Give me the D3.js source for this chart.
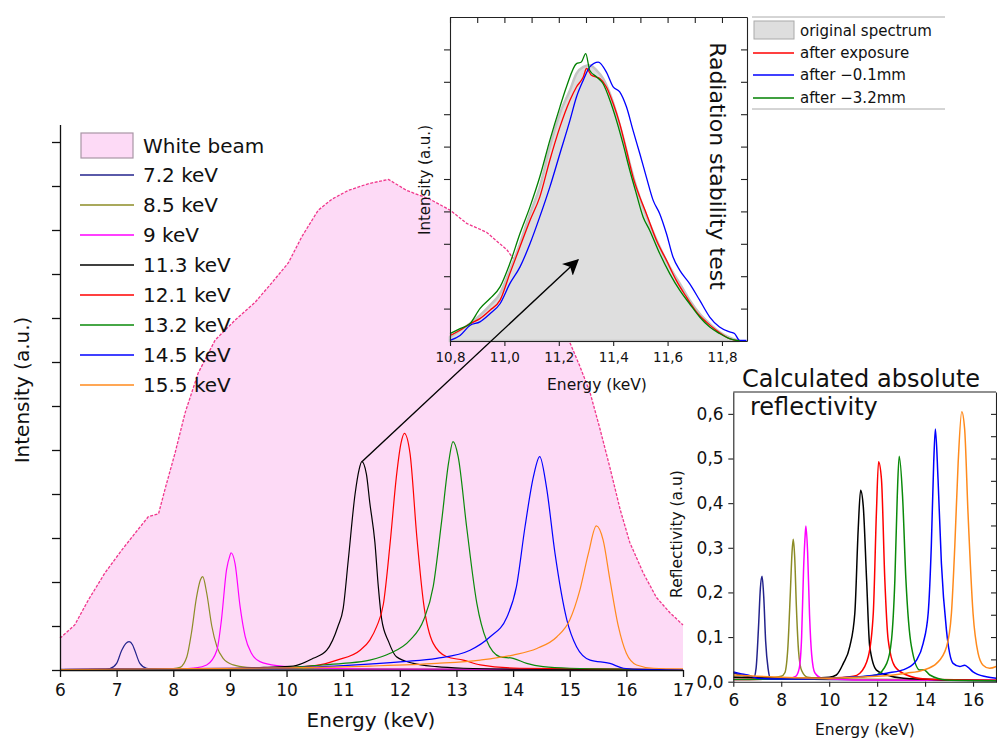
<!DOCTYPE html>
<html><head><meta charset="utf-8">
<script src="https://cdn.jsdelivr.net/npm/d3@7"></script>
<style>
body{margin:0;background:#fff}
svg text{font-family:"DejaVu Sans",sans-serif;fill:#111}
</style></head>
<body><svg id="c" width="997" height="740"></svg>
<script>
// ---------------- DATA ----------------
// Main chart: energy (keV) vs intensity (a.u.)
const legendLabels = ["7.2 keV","8.5 keV","9 keV","11.3 keV","12.1 keV","13.2 keV","14.5 keV","15.5 keV"];
const seriesColors = ["#23238c","#8c8c26","#ff00ff","#000000","#ff0000","#0a8a0a","#0000ff","#ff8a1c"];
const mainTicksX = [6,7,8,9,10,11,12,13,14,15,16,17];

const whiteBeam = [[6.0,1.44],[6.26,2.05],[6.5,3.18],[6.79,4.4],[7.09,5.45],[7.32,6.2],[7.56,6.97],[7.74,7.1],[7.85,8.18],[8.03,9.85],[8.21,11.7],[8.44,13.5],[8.74,15.0],[9.09,15.9],[9.44,16.7],[9.74,17.6],[10.03,18.5],[10.27,19.7],[10.56,20.9],[10.8,21.4],[11.09,21.8],[11.44,22.1],[11.8,22.3],[12.12,21.8],[12.53,21.4],[12.89,20.9],[13.18,20.3],[13.53,19.9],[13.89,19.1],[14.12,18.3],[14.5,16.8],[15.0,14.9],[15.18,13.8],[15.36,12.6],[15.53,11.0],[15.71,9.2],[15.89,7.3],[16.06,5.8],[16.3,4.4],[16.53,3.3],[16.77,2.6],[17.0,2.05]];

const main72 = [[6.0,0.03],[6.8,0.03],[6.88,0.06],[7.0,0.3],[7.09,0.9],[7.16,1.2],[7.22,1.29],[7.28,1.15],[7.32,0.9],[7.41,0.3],[7.53,0.08],[7.7,0.04],[9,0.04],[12,0.03],[17,0.02]];
const main85 = [[6.0,0.02],[7.5,0.03],[8.0,0.06],[8.12,0.12],[8.24,0.6],[8.32,1.67],[8.41,3.3],[8.48,4.1],[8.52,4.24],[8.59,3.5],[8.68,2.0],[8.77,1.06],[8.88,0.53],[9.06,0.23],[9.3,0.12],[10,0.06],[12,0.04],[17,0.02]];
const main90 = [[6.0,0.02],[8.0,0.04],[8.4,0.1],[8.59,0.23],[8.77,0.9],[8.85,2.27],[8.94,4.55],[9.0,5.2],[9.02,5.33],[9.09,4.85],[9.18,2.88],[9.27,1.52],[9.38,0.76],[9.53,0.38],[9.83,0.2],[10.5,0.1],[12,0.04],[17,0.02]];
const main113 = [[6.0,0.02],[9.0,0.06],[9.6,0.12],[10.12,0.18],[10.47,0.53],[10.71,0.9],[10.91,2.0],[11.0,2.8],[11.09,5.0],[11.21,8.0],[11.28,9.1],[11.33,9.47],[11.41,8.9],[11.47,7.6],[11.56,5.8],[11.62,3.8],[11.68,2.3],[11.8,1.3],[11.94,0.6],[12.24,0.3],[12.65,0.15],[13.12,0.08],[14,0.04],[17,0.02]];
const main121 = [[6.0,0.02],[9.5,0.06],[10.5,0.2],[10.89,0.45],[11.3,0.9],[11.47,1.36],[11.59,1.97],[11.71,3.0],[11.83,5.8],[11.94,8.8],[12.02,10.3],[12.08,10.76],[12.18,9.85],[12.3,6.06],[12.42,3.03],[12.59,1.21],[12.83,0.6],[13.12,0.45],[13.42,0.23],[14.12,0.08],[17,0.02]];
const main132 = [[6.0,0.02],[9.5,0.06],[10.5,0.2],[11.0,0.3],[11.47,0.45],[11.83,0.76],[12.18,1.36],[12.42,2.27],[12.59,3.8],[12.74,6.8],[12.86,9.4],[12.94,10.38],[13.03,9.7],[13.18,6.5],[13.36,3.03],[13.53,1.36],[13.77,0.6],[14.0,0.53],[14.24,0.3],[14.53,0.15],[15.0,0.08],[17,0.02]];
const main145 = [[6.0,0.02],[10,0.1],[11.0,0.2],[12.06,0.38],[12.65,0.53],[13.24,0.9],[13.59,1.5],[13.89,2.4],[14.06,3.8],[14.21,6.5],[14.36,8.8],[14.47,9.7],[14.59,8.3],[14.74,5.3],[14.95,2.27],[15.12,1.06],[15.36,0.45],[15.71,0.3],[15.95,0.08],[16.3,0.02],[17,0.02]];
const main155 = [[6.0,0.02],[10,0.1],[11.47,0.18],[12.65,0.3],[13.42,0.45],[14.0,0.68],[14.42,0.98],[14.77,1.5],[15.0,2.27],[15.18,3.64],[15.33,5.3],[15.47,6.55],[15.59,5.9],[15.71,4.1],[15.86,1.97],[16.0,0.76],[16.18,0.23],[16.48,0.08],[17,0.05]];

// Inset 1: radiation stability test, energy (keV) vs intensity (a.u.)
const stabTicksX = [10.8,11.0,11.2,11.4,11.6,11.8];
const stabLabels = ["original spectrum","after exposure","after \u22120.1mm","after \u22123.2mm"];
const stabOriginal = [[10.8,1.2],[10.837,3.3],[10.873,5.3],[10.91,7.9],[10.947,11.0],[10.984,14.6],[11.02,21.8],[11.057,30.0],[11.094,39.3],[11.13,47.5],[11.167,59.9],[11.204,70.2],[11.241,77.4],[11.265,82.5],[11.29,84.6],[11.314,85.1],[11.339,83.5],[11.363,81.0],[11.388,76.3],[11.412,70.2],[11.436,63.0],[11.461,54.7],[11.485,47.5],[11.51,41.4],[11.534,36.2],[11.571,29.0],[11.608,22.8],[11.645,17.7],[11.681,12.6],[11.718,8.4],[11.755,5.3],[11.791,2.8],[11.828,1.0],[11.865,0]];
const stabExposure = [[10.8,1.7],[10.837,3.3],[10.873,5.3],[10.91,6.9],[10.947,9.5],[10.984,12.6],[11.02,20.8],[11.057,29.0],[11.094,37.2],[11.13,44.4],[11.167,55.8],[11.204,66.0],[11.241,74.3],[11.265,78.4],[11.29,81.5],[11.302,84.1],[11.32,82.0],[11.351,81.0],[11.375,78.4],[11.4,73.3],[11.424,67.1],[11.449,58.8],[11.473,50.6],[11.498,44.4],[11.522,39.3],[11.559,31.1],[11.596,24.9],[11.632,18.7],[11.669,13.6],[11.706,9.0],[11.742,5.9],[11.779,3.3],[11.828,0.7],[11.865,0]];
const stabMinus01 = [[10.8,0.2],[10.837,1.7],[10.873,4.8],[10.91,5.9],[10.947,8.4],[10.984,11.5],[11.02,17.7],[11.057,22.8],[11.094,30.0],[11.13,38.3],[11.167,47.5],[11.204,57.8],[11.241,68.1],[11.265,75.3],[11.29,80.5],[11.314,84.6],[11.345,86.1],[11.375,83.0],[11.4,78.4],[11.424,76.9],[11.449,72.2],[11.473,65.0],[11.498,57.8],[11.522,50.6],[11.547,43.4],[11.571,39.3],[11.596,33.1],[11.62,25.9],[11.645,21.8],[11.681,17.7],[11.718,12.6],[11.755,7.4],[11.791,4.3],[11.828,2.8],[11.846,2.3],[11.865,0.2],[11.89,0.2]];
const stabMinus32 = [[10.8,2.3],[10.837,3.8],[10.873,5.3],[10.91,10.0],[10.947,13.1],[10.984,16.7],[11.02,23.9],[11.057,33.1],[11.094,41.4],[11.13,50.6],[11.167,61.9],[11.204,72.2],[11.228,78.4],[11.265,85.6],[11.283,86.1],[11.299,88.7],[11.314,83.5],[11.339,81.5],[11.363,79.4],[11.388,74.3],[11.412,68.1],[11.436,60.9],[11.461,52.7],[11.485,45.5],[11.51,38.3],[11.534,34.2],[11.571,27.0],[11.608,20.8],[11.645,15.6],[11.681,11.5],[11.718,7.4],[11.755,4.3],[11.791,2.3],[11.828,0.7],[11.865,0]];

// Inset 2: calculated absolute reflectivity, energy (keV) vs reflectivity
const reflTicksY = [0,0.1,0.2,0.3,0.4,0.5,0.6];
const reflTicksX = [6,8,10,12,14,16];
const refl72 = [[6,0.02],[6.3,0.015],[6.6,0.012],[6.85,0.008],[6.95,0.03],[7.05,0.12],[7.13,0.21],[7.2,0.236],[7.27,0.19],[7.35,0.09],[7.45,0.03],[7.55,0.008],[8,0.006],[10,0.005],[17,0.002]];
const refl85 = [[6,0.01],[7.5,0.008],[8.0,0.012],[8.15,0.02],[8.28,0.08],[8.38,0.2],[8.45,0.29],[8.5,0.319],[8.56,0.28],[8.63,0.17],[8.72,0.07],[8.85,0.025],[9.1,0.01],[10,0.006],[17,0.003]];
const refl90 = [[6,0.005],[8.2,0.006],[8.6,0.012],[8.75,0.03],[8.85,0.1],[8.93,0.25],[9.0,0.33],[9.03,0.349],[9.1,0.29],[9.18,0.15],[9.27,0.06],[9.4,0.02],[9.7,0.008],[11,0.004],[17,0.003]];
const refl113 = [[6,0.01],[9,0.008],[10.0,0.01],[10.3,0.015],[10.58,0.04],[10.86,0.079],[11.07,0.154],[11.21,0.341],[11.31,0.429],[11.42,0.394],[11.56,0.229],[11.69,0.079],[11.97,0.026],[12.4,0.015],[13.1,0.0075],[15,0.004],[17,0.002]];
const refl121 = [[6,0.005],[10,0.008],[11.0,0.012],[11.28,0.019],[11.63,0.056],[11.84,0.154],[11.97,0.379],[12.06,0.493],[12.18,0.454],[12.32,0.229],[12.46,0.094],[12.74,0.034],[13.23,0.015],[14,0.006],[17,0.003]];
const refl132 = [[6,0.005],[10,0.008],[11.0,0.01],[11.6,0.012],[11.97,0.015],[12.4,0.041],[12.6,0.094],[12.74,0.229],[12.84,0.416],[12.92,0.505],[13.06,0.416],[13.2,0.229],[13.43,0.079],[13.78,0.026],[13.95,0.027],[14.2,0.015],[14.9,0.004],[17,0.002]];
const refl145 = [[6,0.022],[6.3,0.018],[6.6,0.015],[7,0.008],[8,0.006],[10,0.008],[11.5,0.012],[12.4,0.019],[13.23,0.03],[13.65,0.049],[13.92,0.086],[14.13,0.154],[14.26,0.304],[14.36,0.491],[14.43,0.566],[14.54,0.454],[14.68,0.266],[14.89,0.116],[15.17,0.041],[15.45,0.034],[15.65,0.037],[15.8,0.032],[16.0,0.022],[16.55,0.011],[16.97,0.0075]];
const refl155 = [[6,0.015],[7,0.012],[8,0.01],[10,0.008],[12,0.012],[13.23,0.019],[13.92,0.026],[14.48,0.041],[14.9,0.079],[15.1,0.154],[15.24,0.304],[15.38,0.491],[15.53,0.605],[15.65,0.566],[15.79,0.379],[16.0,0.154],[16.21,0.064],[16.42,0.037],[16.69,0.03],[16.97,0.034]];

// Arrow: from the 11.3 keV peak (main chart) to a point inside the inset
const arrowFrom = [11.33, 9.47];
const arrowTo = [11.27, 25];

// ---------------- DRAW ----------------
const svg = d3.select("#c");
const fmtComma = d => d3.format(".1f")(d).replace(".", ",");
const mainData = [main72, main85, main90, main113, main121, main132, main145, main155];
const reflData = [refl72, refl85, refl90, refl113, refl121, refl132, refl145, refl155];

// Main scales
const x = d3.scaleLinear().domain([6,17]).range([60,683]);
const y = d3.scaleLinear().domain([0,24.8]).range([670,124.4]);

// Inset 1 scales
const xi = d3.scaleLinear().domain([10.8,11.892]).range([450,747]);
const yi = d3.scaleLinear().domain([0,100]).range([341,17]);

// Inset 2 scales
const xr = d3.scaleLinear().domain([6,17]).range([733.3,997]);
const yr = d3.scaleLinear().domain([0,0.649]).range([681.7,392]);

// White beam fill
const beamArea = d3.area().x(d=>x(d[0])).y0(y(0)).y1(d=>y(d[1]));
svg.append("path").datum(whiteBeam).attr("d", beamArea).attr("fill","#fddaf6");

// Inset 1 white background
svg.append("rect").attr("x",xi.range()[0]).attr("y",yi.range()[1])
  .attr("width",xi.range()[1]-xi.range()[0]).attr("height",yi.range()[0]-yi.range()[1]).attr("fill","#fff");

// White beam edge
const beamLine = d3.line().x(d=>x(d[0])).y(d=>y(d[1]));
svg.append("path").datum(whiteBeam).attr("d", beamLine).attr("fill","none")
  .attr("stroke","#f0378c").attr("stroke-width",1.3).attr("stroke-dasharray","3,1.5");

// Main curves
const mline = d3.line().x(d=>x(d[0])).y(d=>y(d[1])).curve(d3.curveMonotoneX);
mainData.forEach((s,i)=>{
  svg.append("path").datum(s).attr("d", mline).attr("fill","none")
    .attr("stroke", seriesColors[i]).attr("stroke-width",1.2);
});

// Main axes
const gx = svg.append("g").attr("transform",`translate(0,${y(0)})`);
gx.call(d3.axisBottom(x).tickValues(d3.range(6.5,17,1)).tickSize(4).tickSizeOuter(0).tickFormat(""));
gx.call(d3.axisBottom(x).tickValues(mainTicksX).tickSize(7).tickSizeOuter(0).tickFormat(d3.format("d")));
gx.selectAll("text").attr("font-size",17).attr("dy","0.95em");
gx.selectAll("path,line").attr("stroke","#111").attr("stroke-width",1.3);

const gy = svg.append("g").attr("transform",`translate(${x(6)},0)`);
gy.call(d3.axisLeft(y).tickValues(d3.range(1,25,2)).tickSize(4).tickSizeOuter(0).tickFormat(""));
gy.call(d3.axisLeft(y).tickValues(d3.range(0,25,2)).tickSize(8).tickSizeOuter(0).tickFormat(""));
gy.selectAll("path,line").attr("stroke","#111").attr("stroke-width",1.3);

svg.append("text").attr("x",371).attr("y",727).attr("text-anchor","middle").attr("font-size",20).text("Energy (keV)");
svg.append("text").attr("transform","translate(22,390) rotate(-90)").attr("text-anchor","middle")
  .attr("dominant-baseline","central").attr("font-size",20).text("Intensity (a.u.)");

// Main legend
const lg = svg.append("g");
lg.append("rect").attr("x",81).attr("y",133).attr("width",52).attr("height",25)
  .attr("fill","#fddaf6").attr("stroke","#a996a6").attr("stroke-width",1.2);
lg.append("text").attr("x",143).attr("y",146).attr("dominant-baseline","central").attr("font-size",20).text("White beam");
legendLabels.forEach((t,i)=>{
  const yy = 175 + i*30;
  lg.append("line").attr("x1",80).attr("x2",134).attr("y1",yy).attr("y2",yy)
    .attr("stroke",seriesColors[i]).attr("stroke-width",1.6);
  lg.append("text").attr("x",143).attr("y",yy).attr("dominant-baseline","central").attr("font-size",20).text(t);
});

// ---------- Inset 1 ----------
const ig = svg.append("g");
const iArea = d3.area().x(d=>xi(d[0])).y0(yi(0)).y1(d=>yi(d[1])).curve(d3.curveMonotoneX);
const iLine = d3.line().x(d=>xi(d[0])).y(d=>yi(d[1])).curve(d3.curveMonotoneX);
ig.append("path").datum(stabOriginal).attr("d",iArea).attr("fill","#dedede").attr("stroke","#c4c4c4").attr("stroke-width",2.5);
const stabLines = [stabExposure, stabMinus01, stabMinus32];
const stabColors = ["#ff0000","#0000ff","#008000"];
stabLines.forEach((s,i)=>{
  ig.append("path").datum(s).attr("d",iLine).attr("fill","none").attr("stroke",stabColors[i]).attr("stroke-width",1.3);
});
// axes
const ib = ig.append("g").attr("transform",`translate(0,${yi(0)})`);
ib.call(d3.axisBottom(xi).tickValues(d3.range(10.9,11.9,0.2)).tickSize(4).tickSizeOuter(0).tickFormat(""));
ib.call(d3.axisBottom(xi).tickValues(stabTicksX).tickSize(5).tickSizeOuter(0).tickFormat(fmtComma));
ib.selectAll("text").attr("font-size",13.5).attr("dy","0.95em");
const it = ig.append("g").attr("transform",`translate(0,${yi(100)})`);
it.call(d3.axisTop(xi).tickValues(d3.range(10.8,11.89,0.1)).tickSize(-6).tickSizeOuter(0).tickFormat(""));
const il = ig.append("g").attr("transform",`translate(${xi.range()[0]},0)`);
il.call(d3.axisLeft(yi).tickValues(d3.range(10,100,10)).tickSize(6).tickSizeOuter(0).tickFormat(""));
const ir = ig.append("g").attr("transform",`translate(${xi.range()[1]},0)`);
ir.call(d3.axisRight(yi).tickValues(d3.range(10,100,10)).tickSize(-6).tickSizeOuter(0).tickFormat(""));
ig.selectAll("path.domain,.tick line").attr("stroke","#222").attr("stroke-width",1.1);

ig.append("text").attr("x",597).attr("y",390).attr("text-anchor","middle").attr("font-size",15.5).text("Energy (keV)");
ig.append("text").attr("transform","translate(425,180) rotate(-90)").attr("text-anchor","middle")
  .attr("dominant-baseline","central").attr("font-size",15).text("Intensity (a.u.)");
ig.append("text").attr("transform","translate(717,166) rotate(90)").attr("text-anchor","middle")
  .attr("dominant-baseline","central").attr("font-size",22).text("Radiation stability test");

// Inset 1 legend
const il2 = svg.append("g");
il2.append("line").attr("x1",752).attr("x2",945).attr("y1",17).attr("y2",17).attr("stroke","#aaa").attr("stroke-width",1);
il2.append("line").attr("x1",752).attr("x2",945).attr("y1",109).attr("y2",109).attr("stroke","#aaa").attr("stroke-width",1);
il2.append("rect").attr("x",754).attr("y",21).attr("width",40).attr("height",18).attr("fill","#dedede").attr("stroke","#aaa");
const legRows = [31,53,75,98];
stabLabels.forEach((t,i)=>{
  if(i>0){
    il2.append("line").attr("x1",753).attr("x2",794).attr("y1",legRows[i]).attr("y2",legRows[i])
      .attr("stroke",stabColors[i-1]).attr("stroke-width",1.4);
  }
  il2.append("text").attr("x",800).attr("y",legRows[i]).attr("dominant-baseline","central").attr("font-size",15).text(t);
});

// Arrow
svg.append("defs").append("marker").attr("id","ah").attr("viewBox","0 0 10 10").attr("refX",9).attr("refY",5)
  .attr("markerWidth",16).attr("markerHeight",16).attr("markerUnits","userSpaceOnUse").attr("orient","auto")
  .append("path").attr("d","M0,0 L10,5 L0,10 L2.5,5 Z").attr("fill","#000");
svg.append("line").attr("x1",x(arrowFrom[0])).attr("y1",y(arrowFrom[1]))
  .attr("x2",xi(arrowTo[0])).attr("y2",yi(arrowTo[1]))
  .attr("stroke","#000").attr("stroke-width",1.4).attr("marker-end","url(#ah)");

// ---------- Inset 2 ----------
const rg = svg.append("g");
rg.append("defs").append("clipPath").attr("id","rc").append("rect")
  .attr("x",xr.range()[0]).attr("y",yr.range()[1]).attr("width",xr.range()[1]-xr.range()[0]).attr("height",yr.range()[0]-yr.range()[1]);
const rLine = d3.line().x(d=>xr(d[0])).y(d=>yr(d[1])).curve(d3.curveMonotoneX);
const rcurves = rg.append("g").attr("clip-path","url(#rc)");
reflData.forEach((s,i)=>{
  rcurves.append("path").datum(s).attr("d",rLine).attr("fill","none").attr("stroke",seriesColors[i]).attr("stroke-width",1.5);
});
const rb = rg.append("g").attr("transform",`translate(0,${yr(0)})`);
rb.call(d3.axisBottom(xr).tickValues(d3.range(7,17,2)).tickSize(5).tickSizeOuter(0).tickFormat(""));
rb.call(d3.axisBottom(xr).tickValues(reflTicksX).tickSize(5).tickSizeOuter(0).tickFormat(d3.format("d")));
rb.selectAll("text").attr("font-size",17).attr("dy","0.95em");
const rl = rg.append("g").attr("transform",`translate(${xr.range()[0]},0)`);
rl.call(d3.axisLeft(yr).tickValues(d3.range(0.05,0.65,0.1)).tickSize(3).tickSizeOuter(0).tickFormat(""));
rl.call(d3.axisLeft(yr).tickValues(reflTicksY).tickSize(5).tickSizeOuter(0).tickFormat(fmtComma));
rl.selectAll("text").attr("font-size",17).attr("dx","-0.1em");
const rr = rg.append("g").attr("transform",`translate(996,0)`);
rr.call(d3.axisRight(yr).tickValues(d3.range(0.05,0.65,0.05)).tickSize(-5).tickSizeOuter(0).tickFormat(""));
rg.append("line").attr("x1",xr.range()[0]).attr("x2",996).attr("y1",yr.range()[1]).attr("y2",yr.range()[1]);
rg.selectAll("path.domain,.tick line, line").attr("stroke","#222").attr("stroke-width",1.1);

rg.append("text").attr("x",742).attr("y",387).attr("font-size",24).text("Calculated absolute");
rg.append("text").attr("x",750).attr("y",415).attr("font-size",24).text("reflectivity");
rg.append("text").attr("x",865).attr("y",735).attr("text-anchor","middle").attr("font-size",15.5).text("Energy (keV)");
rg.append("text").attr("transform","translate(677,534) rotate(-90)").attr("text-anchor","middle")
  .attr("dominant-baseline","central").attr("font-size",15.5).text("Reflectivity (a.u)");
</script>
</body></html>
